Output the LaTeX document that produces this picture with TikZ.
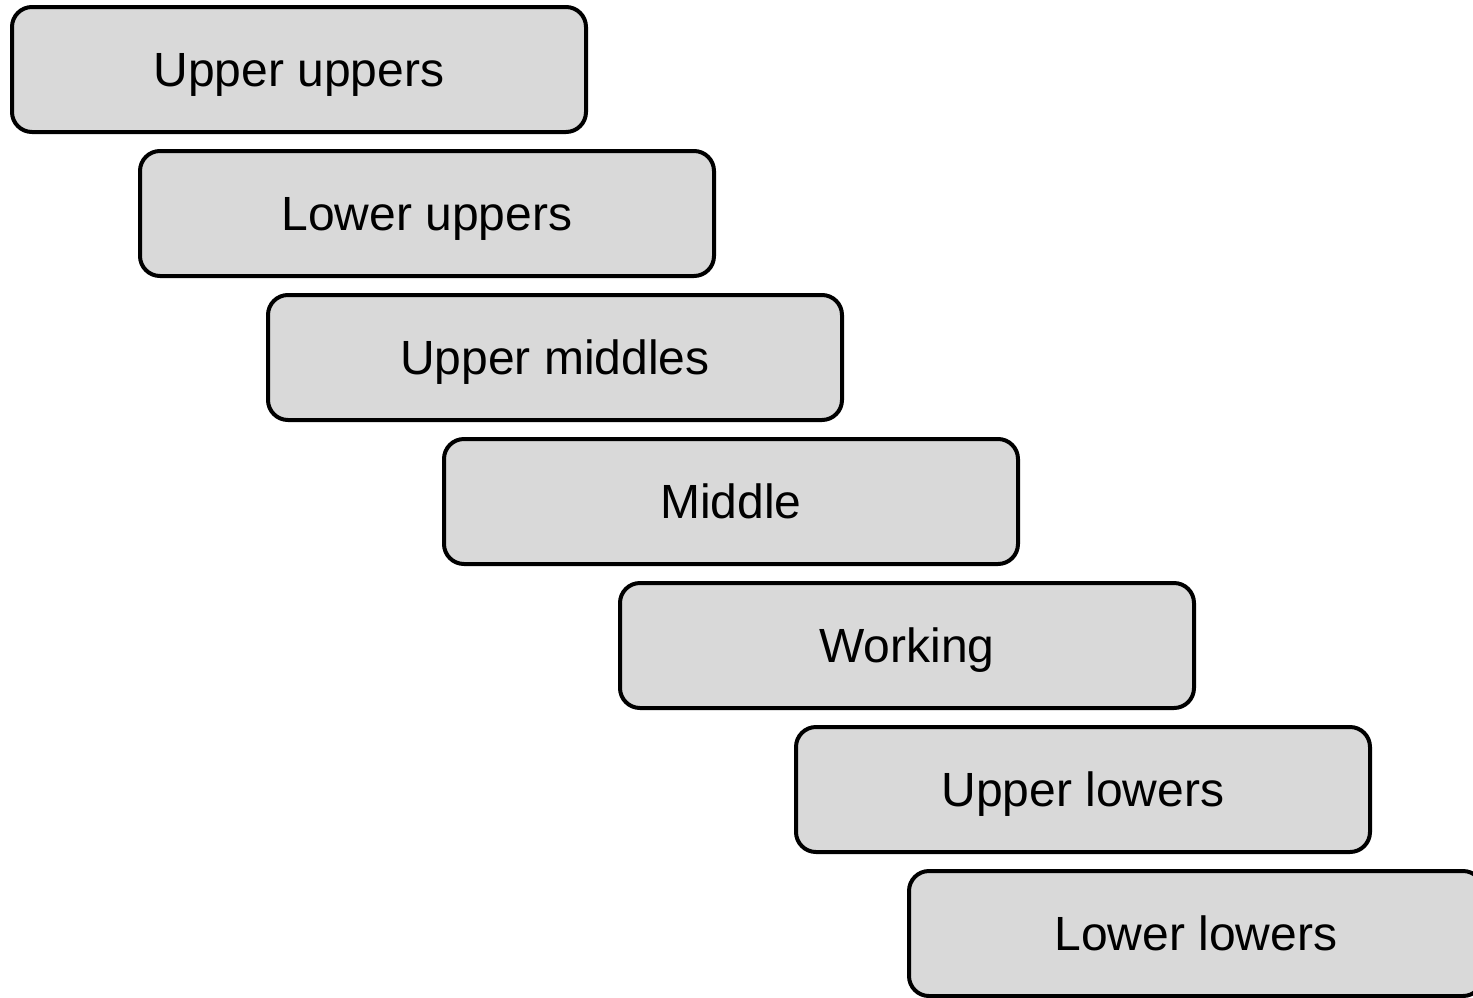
\documentclass[tikz,border=0pt]{standalone}
\usepackage{fontspec}
\setmainfont{Liberation Sans}
\definecolor{boxgray}{HTML}{D9D9D9}
\begin{document}
\begin{tikzpicture}[x=0.5pt,y=-0.5pt,
  stairbox/.style={draw=black, fill=boxgray, line width=2pt, rounded corners=10pt,
    minimum width=287pt, minimum height=62.5pt, inner sep=0pt,
    text height=17.2pt, text depth=0pt,
    font=\fontsize{24}{28}\selectfont}]
\useasboundingbox (0,0) rectangle (1473,997);
\clip (0,0) rectangle (1473,997);
\node[stairbox] (uu) at (299,69.5) {Upper uppers};
\node[stairbox] (lu) at (427,213.5) {Lower uppers};
\node[stairbox] (um) at (555,357.5) {Upper middles};
\node[stairbox] (mi) at (731,501.5) {Middle};
\node[stairbox] (wo) at (907,645.5) {Working};
\node[stairbox] (ul) at (1083,789.5) {Upper lowers};
\node[stairbox] (ll) at (1196,933.5) {Lower lowers};
\end{tikzpicture}
\end{document}
